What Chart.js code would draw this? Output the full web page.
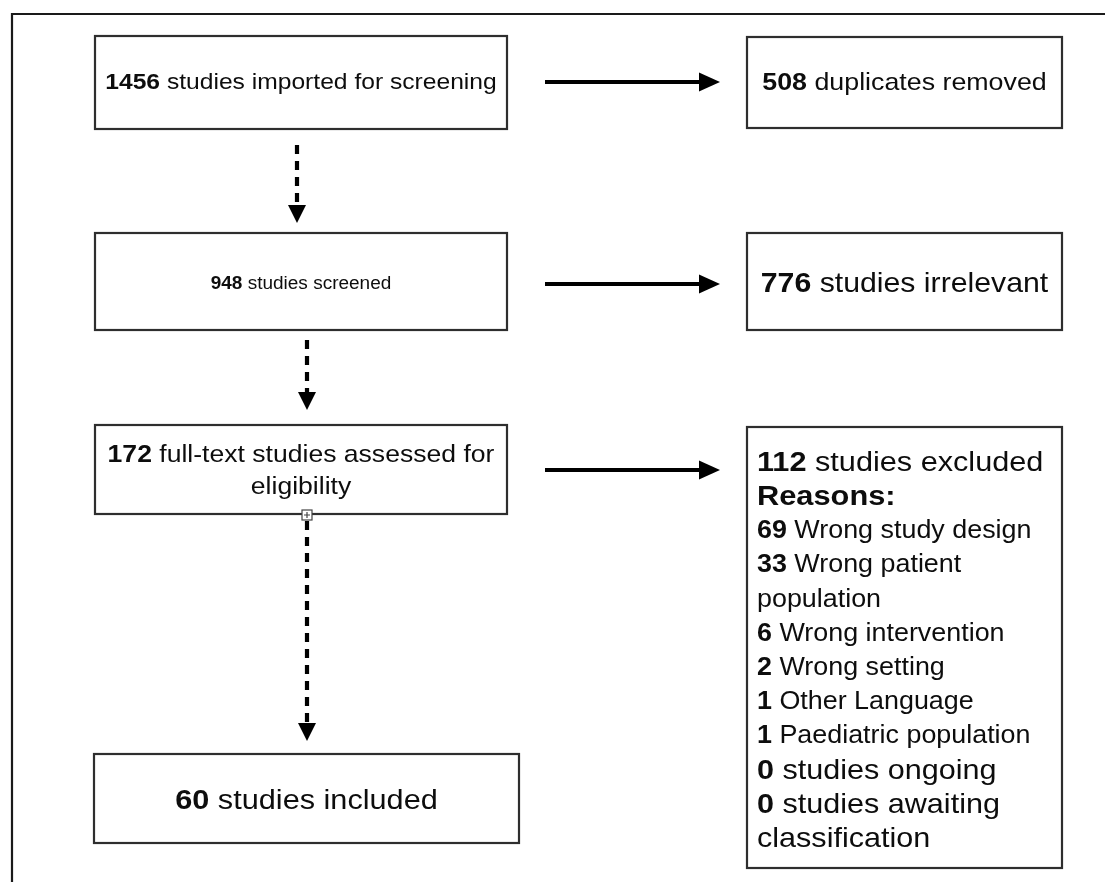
<!DOCTYPE html>
<html>
<head>
<meta charset="utf-8">
<script src="https://cdn.jsdelivr.net/npm/chart.js@4"></script>
<style>
  html, body { margin: 0; padding: 0; background: #fff; overflow: hidden; }
  #wrap { width: 1105px; height: 882px; }
</style>
</head>
<body>
<div id="wrap"><canvas id="c" width="1105" height="882"></canvas></div>
<script>
// ---- data ----
const stageCounts = [1456, 948, 172, 60];
const stageTexts = ['studies imported for screening', 'studies screened',
  'full-text studies assessed for eligibility', 'studies included'];
const removedCounts = [508, 776, 112];
const removedTexts = ['duplicates removed', 'studies irrelevant', 'studies excluded'];
const reasonHeading = 'Reasons:';
const reasonCounts = [69, 33, 6, 2, 1, 1];
const reasonTexts = ['Wrong study design', 'Wrong patient population', 'Wrong intervention',
  'Wrong setting', 'Other Language', 'Paediatric population'];
const statusCounts = [0, 0];
const statusTexts = ['studies ongoing', 'studies awaiting classification'];

// ---- layout (positions in scale units) ----
const stageBoxes = [[95, 36, 507, 129], [95, 233, 507, 330], [95, 425, 507, 514], [94, 754, 519, 843]];
const stageTextY = [83, 284, 455, 801];
const stageFont = [22.8, 17.6, 24.6, 28.4];
const stageLine = 32;
const sideBoxes = [[747, 37, 1062, 128], [747, 233, 1062, 330], [747, 427, 1062, 868]];
const sideTextY = [83, 284, 463];
const sideFont = [24.8, 28, 28.4];
const sideLine = 34.2;
const sideTextX = 757;
const reasonFont = 24.9, headingFont = 28.5, statusFont = 28.3;
const hArrowsY = [82, 284, 470];
const hArrowX = [545, 720];
const vArrows = [[297, 145, 223], [307, 340, 410], [307, 521, 741]];
const SX = 1.08;
const FONT = '"Liberation Sans", Arial, Helvetica, sans-serif';
const INK = '#0d0d0d';

function fontOf(size, bold) { return (bold ? 'bold ' : '') + size + 'px ' + FONT; }

function tokens(count, text) {
  const t = [];
  if (count !== null && count !== undefined) t.push({ t: String(count), bold: true });
  text.split(' ').forEach(w => t.push({ t: w, bold: false }));
  return t;
}

function measureRun(ctx, r, size) { ctx.font = fontOf(size, r.bold); return ctx.measureText(r.t).width * SX; }

function wrap(ctx, toks, size, maxW) {
  const lines = [];
  let line = [], w = 0;
  toks.forEach(tok => {
    const run = { t: (line.length ? ' ' : '') + tok.t, bold: tok.bold };
    const rw = measureRun(ctx, run, size);
    if (line.length && w + rw > maxW) {
      lines.push(line);
      line = [{ t: tok.t, bold: tok.bold }];
      w = measureRun(ctx, line[0], size);
    } else { line.push(run); w += rw; }
  });
  if (line.length) lines.push(line);
  return lines;
}

function drawRuns(ctx, runs, x, y, size, align) {
  let total = 0;
  runs.forEach(r => total += measureRun(ctx, r, size));
  let cur = align === 'center' ? x - total / 2 : x;
  runs.forEach(r => {
    ctx.font = fontOf(size, r.bold);
    const w = ctx.measureText(r.t).width * SX;
    ctx.save();
    ctx.translate(cur, y);
    ctx.scale(SX, 1);
    ctx.fillText(r.t, 0, 0);
    ctx.restore();
    cur += w;
  });
}

const flowPlugin = {
  id: 'flow',
  afterDraw(chart) {
    const ctx = chart.ctx;
    const xs = chart.scales.x, ys = chart.scales.y;
    const X = v => xs.getPixelForValue(v), Y = v => ys.getPixelForValue(v);
    ctx.save();
    ctx.fillStyle = '#fff';
    ctx.fillRect(0, 0, chart.width, chart.height);

    // outer frame
    ctx.strokeStyle = '#1a1a1a'; ctx.lineWidth = 2.2;
    ctx.beginPath(); ctx.moveTo(X(12), Y(882)); ctx.lineTo(X(12), Y(14)); ctx.lineTo(X(1105), Y(14)); ctx.stroke();

    // boxes
    ctx.strokeStyle = '#2e2e2e'; ctx.lineWidth = 2.2;
    [...stageBoxes, ...sideBoxes].forEach(b => {
      ctx.strokeRect(X(b[0]), Y(b[1]), X(b[2]) - X(b[0]), Y(b[3]) - Y(b[1]));
    });

    // horizontal arrows
    ctx.strokeStyle = '#000'; ctx.fillStyle = '#000'; ctx.lineWidth = 4;
    hArrowsY.forEach(y => {
      const x0 = X(hArrowX[0]), x1 = X(hArrowX[1]), yy = Y(y);
      ctx.beginPath(); ctx.moveTo(x0, yy); ctx.lineTo(x1 - 18, yy); ctx.stroke();
      ctx.beginPath(); ctx.moveTo(x1, yy); ctx.lineTo(x1 - 21, yy - 9.5); ctx.lineTo(x1 - 21, yy + 9.5); ctx.closePath(); ctx.fill();
    });

    // vertical dashed arrows
    vArrows.forEach(a => {
      const xx = X(a[0]), y0 = Y(a[1]), y1 = Y(a[2]);
      ctx.setLineDash([9, 7]); ctx.lineWidth = 4.2;
      ctx.beginPath(); ctx.moveTo(xx, y0); ctx.lineTo(xx, y1 - 18); ctx.stroke();
      ctx.setLineDash([]);
      ctx.beginPath(); ctx.moveTo(xx, y1); ctx.lineTo(xx - 9, y1 - 18); ctx.lineTo(xx + 9, y1 - 18); ctx.closePath(); ctx.fill();
    });

    // small connector marker on box 3
    const mx = X(307), my = Y(515);
    ctx.fillStyle = '#fff'; ctx.fillRect(mx - 5, my - 5, 10, 10);
    ctx.strokeStyle = '#444'; ctx.lineWidth = 1.2;
    ctx.strokeRect(mx - 5, my - 5, 10, 10);
    ctx.beginPath(); ctx.moveTo(mx - 3, my); ctx.lineTo(mx + 3, my); ctx.moveTo(mx, my - 3); ctx.lineTo(mx, my + 3); ctx.stroke();

    // texts
    ctx.fillStyle = INK; ctx.textBaseline = 'middle'; ctx.textAlign = 'left';
    stageCounts.forEach((c, i) => {
      const b = stageBoxes[i];
      const cx = X((b[0] + b[2]) / 2);
      const lines = wrap(ctx, tokens(c, stageTexts[i]), stageFont[i], X(b[2]) - X(b[0]) - 12);
      lines.forEach((ln, k) => drawRuns(ctx, ln, cx, Y(stageTextY[i] + k * stageLine), stageFont[i], 'center'));
    });
    removedCounts.slice(0, 2).forEach((c, i) => {
      const b = sideBoxes[i];
      drawRuns(ctx, tokens(c, removedTexts[i]).map((t, k) => ({ t: (k ? ' ' : '') + t.t, bold: t.bold })),
        X((b[0] + b[2]) / 2), Y(sideTextY[i]), sideFont[i], 'center');
    });

    // excluded box with reasons
    const b3 = sideBoxes[2];
    const maxW = X(b3[2]) - X(sideTextX) - 4;
    let row = 0;
    const put = (toks, size) => {
      wrap(ctx, toks, size, maxW).forEach(ln => {
        drawRuns(ctx, ln, X(sideTextX), Y(sideTextY[2] + row * sideLine), size, 'left');
        row++;
      });
    };
    put(tokens(removedCounts[2], removedTexts[2]), sideFont[2]);
    put([{ t: reasonHeading, bold: true }], headingFont);
    reasonCounts.forEach((c, i) => put(tokens(c, reasonTexts[i]), reasonFont));
    statusCounts.forEach((c, i) => put(tokens(c, statusTexts[i]), statusFont));
    ctx.restore();
  }
};

new Chart(document.getElementById('c'), {
  type: 'scatter',
  data: { datasets: [{ data: stageCounts.map((v, i) => ({ x: (stageBoxes[i][0] + stageBoxes[i][2]) / 2, y: stageTextY[i] })), pointRadius: 0, showLine: false }] },
  options: {
    responsive: false,
    animation: false,
    layout: { padding: 0 },
    events: [],
    scales: {
      x: { type: 'linear', min: 0, max: 1105, display: false },
      y: { type: 'linear', min: 0, max: 882, reverse: true, display: false }
    },
    plugins: { legend: { display: false }, tooltip: { enabled: false } }
  },
  plugins: [flowPlugin]
});
</script>
</body>
</html>
